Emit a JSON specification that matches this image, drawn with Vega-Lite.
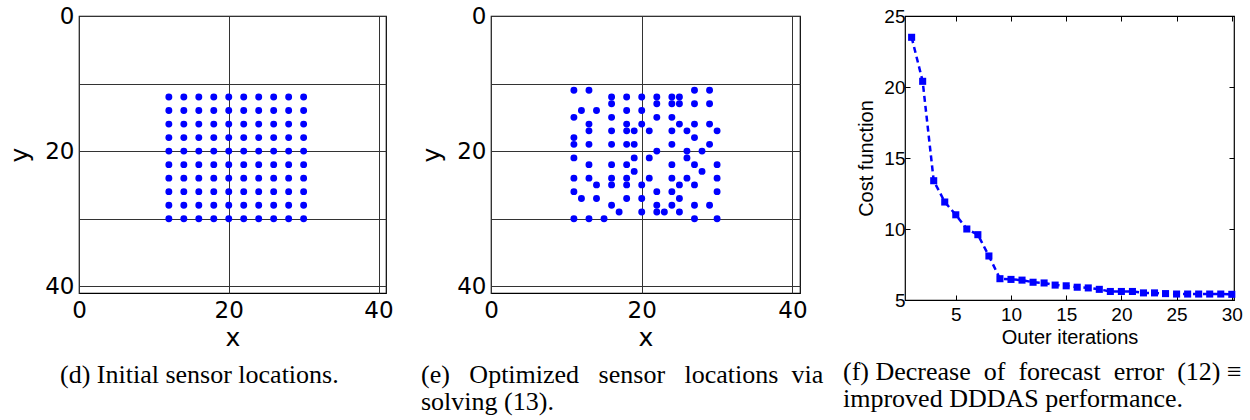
{
  "$schema": "https://vega.github.io/schema/vega-lite/v6.json",
  "background": "white",
  "padding": {"left": 7, "top": 4, "right": 0, "bottom": 0},
  "config": {
    "view": {"stroke": "#000", "strokeWidth": 1.2},
    "axis": {"domain": false, "labelColor": "#000", "titleColor": "#000", "titleFontWeight": "normal"},
    "title": {"color": "#000", "frame": "group"}
  },
  "datasets": {
    "initial": [
      {"x":12,"y":12},{"x":14,"y":12},{"x":16,"y":12},{"x":18,"y":12},{"x":20,"y":12},{"x":22,"y":12},{"x":24,"y":12},{"x":26,"y":12},{"x":28,"y":12},{"x":30,"y":12},
      {"x":12,"y":14},{"x":14,"y":14},{"x":16,"y":14},{"x":18,"y":14},{"x":20,"y":14},{"x":22,"y":14},{"x":24,"y":14},{"x":26,"y":14},{"x":28,"y":14},{"x":30,"y":14},
      {"x":12,"y":16},{"x":14,"y":16},{"x":16,"y":16},{"x":18,"y":16},{"x":20,"y":16},{"x":22,"y":16},{"x":24,"y":16},{"x":26,"y":16},{"x":28,"y":16},{"x":30,"y":16},
      {"x":12,"y":18},{"x":14,"y":18},{"x":16,"y":18},{"x":18,"y":18},{"x":20,"y":18},{"x":22,"y":18},{"x":24,"y":18},{"x":26,"y":18},{"x":28,"y":18},{"x":30,"y":18},
      {"x":12,"y":20},{"x":14,"y":20},{"x":16,"y":20},{"x":18,"y":20},{"x":20,"y":20},{"x":22,"y":20},{"x":24,"y":20},{"x":26,"y":20},{"x":28,"y":20},{"x":30,"y":20},
      {"x":12,"y":22},{"x":14,"y":22},{"x":16,"y":22},{"x":18,"y":22},{"x":20,"y":22},{"x":22,"y":22},{"x":24,"y":22},{"x":26,"y":22},{"x":28,"y":22},{"x":30,"y":22},
      {"x":12,"y":24},{"x":14,"y":24},{"x":16,"y":24},{"x":18,"y":24},{"x":20,"y":24},{"x":22,"y":24},{"x":24,"y":24},{"x":26,"y":24},{"x":28,"y":24},{"x":30,"y":24},
      {"x":12,"y":26},{"x":14,"y":26},{"x":16,"y":26},{"x":18,"y":26},{"x":20,"y":26},{"x":22,"y":26},{"x":24,"y":26},{"x":26,"y":26},{"x":28,"y":26},{"x":30,"y":26},
      {"x":12,"y":28},{"x":14,"y":28},{"x":16,"y":28},{"x":18,"y":28},{"x":20,"y":28},{"x":22,"y":28},{"x":24,"y":28},{"x":26,"y":28},{"x":28,"y":28},{"x":30,"y":28},
      {"x":12,"y":30},{"x":14,"y":30},{"x":16,"y":30},{"x":18,"y":30},{"x":20,"y":30},{"x":22,"y":30},{"x":24,"y":30},{"x":26,"y":30},{"x":28,"y":30},{"x":30,"y":30}
    ],
    "optimized": [
      {"x":11,"y":11},{"x":13,"y":11},{"x":27,"y":11},{"x":29,"y":11},
      {"x":16,"y":12},{"x":18,"y":12},{"x":20,"y":12},{"x":22,"y":12},{"x":24,"y":12},{"x":25,"y":12},
      {"x":16,"y":13},{"x":22,"y":13},{"x":24,"y":13},{"x":25,"y":13},{"x":27,"y":13},{"x":29,"y":13},
      {"x":12,"y":14},{"x":14,"y":14},{"x":18,"y":14},{"x":20,"y":14},
      {"x":11,"y":15},{"x":16,"y":15},{"x":22,"y":15},{"x":24,"y":15},
      {"x":13,"y":16},{"x":18,"y":16},{"x":20,"y":16},{"x":25,"y":16},{"x":27,"y":16},{"x":29,"y":16},
      {"x":13,"y":17},{"x":16,"y":17},{"x":18,"y":17},{"x":19,"y":17},{"x":21,"y":17},{"x":24,"y":17},{"x":26,"y":17},{"x":30,"y":17},
      {"x":11,"y":18},{"x":27,"y":18},
      {"x":11,"y":19},{"x":13,"y":19},{"x":16,"y":19},{"x":18,"y":19},{"x":19,"y":19},{"x":24,"y":19},{"x":29,"y":19},
      {"x":22,"y":20},{"x":26,"y":20},{"x":28,"y":20},
      {"x":11,"y":21},{"x":19,"y":21},{"x":21,"y":21},{"x":26,"y":21},
      {"x":13,"y":22},{"x":16,"y":22},{"x":18,"y":22},{"x":24,"y":22},{"x":27,"y":22},{"x":30,"y":22},
      {"x":19,"y":23},{"x":28,"y":23},
      {"x":11,"y":24},{"x":13,"y":24},{"x":16,"y":24},{"x":18,"y":24},{"x":21,"y":24},{"x":24,"y":24},{"x":26,"y":24},{"x":30,"y":24},
      {"x":14,"y":25},{"x":16,"y":25},{"x":18,"y":25},{"x":20,"y":25},{"x":25,"y":25},{"x":27,"y":25},
      {"x":11,"y":26},{"x":22,"y":26},{"x":24,"y":26},{"x":30,"y":26},
      {"x":12,"y":27},{"x":14,"y":27},{"x":18,"y":27},{"x":20,"y":27},{"x":25,"y":27},
      {"x":16,"y":28},{"x":22,"y":28},{"x":24,"y":28},{"x":27,"y":28},{"x":29,"y":28},
      {"x":17,"y":29},{"x":20,"y":29},{"x":22,"y":29},{"x":23,"y":29},{"x":25,"y":29},
      {"x":11,"y":30},{"x":13,"y":30},{"x":15,"y":30},{"x":27,"y":30},{"x":30,"y":30}
    ],
    "cost": [
      {"iter":1,"cost":23.5},{"iter":2,"cost":20.4},{"iter":3,"cost":13.4},{"iter":4,"cost":11.9},{"iter":5,"cost":11.0},
      {"iter":6,"cost":10.0},{"iter":7,"cost":9.6},{"iter":8,"cost":8.1},{"iter":9,"cost":6.5},{"iter":10,"cost":6.45},
      {"iter":11,"cost":6.4},{"iter":12,"cost":6.25},{"iter":13,"cost":6.2},{"iter":14,"cost":6.05},{"iter":15,"cost":6.0},
      {"iter":16,"cost":5.9},{"iter":17,"cost":5.85},{"iter":18,"cost":5.75},{"iter":19,"cost":5.6},{"iter":20,"cost":5.6},
      {"iter":21,"cost":5.6},{"iter":22,"cost":5.5},{"iter":23,"cost":5.5},{"iter":24,"cost":5.45},{"iter":25,"cost":5.42},
      {"iter":26,"cost":5.42},{"iter":27,"cost":5.42},{"iter":28,"cost":5.42},{"iter":29,"cost":5.42},{"iter":30,"cost":5.4}
    ]
  },
  "hconcat": [
    {
      "width": 307,
      "height": 277,
      "data": {"name": "initial"},
      "title": {"text": ["(d) Initial sensor locations."], "orient": "bottom", "anchor": "start", "frame": "group", "dx": -19, "offset": 12, "font": "Liberation Serif", "fontSize": 26, "fontWeight": "normal", "lineHeight": 27},
      "mark": {"type": "circle", "size": 48, "color": "#0000ff", "opacity": 1},
      "encoding": {
        "x": {"field": "x", "type": "quantitative", "scale": {"domain": [0, 41], "nice": false, "zero": false},
          "axis": {"values": [0, 20, 40], "grid": true, "gridColor": "#333", "gridOpacity": 1, "ticks": false, "labelFlush": false, "labelFont": "DejaVu Sans", "labelFontSize": 23, "labelPadding": 6, "title": "x", "titleFont": "DejaVu Sans", "titleFontSize": 25, "titlePadding": 3}},
        "y": {"field": "y", "type": "quantitative", "scale": {"domain": [0, 41], "nice": false, "zero": false, "reverse": true},
          "axis": {"values": [0, 10, 20, 30, 40], "labelExpr": "datum.value % 20 == 0 ? datum.label : ''", "grid": true, "gridColor": "#333", "gridOpacity": 1, "ticks": false, "labelFlush": false, "labelFont": "DejaVu Sans", "labelFontSize": 23, "labelPadding": 5, "title": "y", "titleFont": "DejaVu Sans", "titleFontSize": 25, "titlePadding": 12}}
      }
    },
    {
      "width": 309,
      "height": 277,
      "data": {"name": "optimized"},
      "title": {"text": ["(e)\u00a0\u00a0 Optimized\u00a0\u00a0 sensor\u00a0\u00a0 locations\u00a0 via", "solving (13)."], "orient": "bottom", "anchor": "start", "frame": "group", "dx": -70, "offset": 12, "font": "Liberation Serif", "fontSize": 26, "fontWeight": "normal", "lineHeight": 27},
      "mark": {"type": "circle", "size": 48, "color": "#0000ff", "opacity": 1},
      "encoding": {
        "x": {"field": "x", "type": "quantitative", "scale": {"domain": [0, 41], "nice": false, "zero": false},
          "axis": {"values": [0, 20, 40], "grid": true, "gridColor": "#333", "gridOpacity": 1, "ticks": false, "labelFlush": false, "labelFont": "DejaVu Sans", "labelFontSize": 23, "labelPadding": 6, "title": "x", "titleFont": "DejaVu Sans", "titleFontSize": 25, "titlePadding": 3}},
        "y": {"field": "y", "type": "quantitative", "scale": {"domain": [0, 41], "nice": false, "zero": false, "reverse": true},
          "axis": {"values": [0, 10, 20, 30, 40], "labelExpr": "datum.value % 20 == 0 ? datum.label : ''", "grid": true, "gridColor": "#333", "gridOpacity": 1, "ticks": false, "labelFlush": false, "labelFont": "DejaVu Sans", "labelFontSize": 23, "labelPadding": 5, "title": "y", "titleFont": "DejaVu Sans", "titleFontSize": 25, "titlePadding": 12}}
      }
    },
    {
      "width": 329,
      "height": 284,
      "data": {"name": "cost"},
      "title": {"text": ["(f) Decrease\u00a0 of\u00a0 forecast\u00a0 error\u00a0 (12) \u2261", "improved DDDAS performance."], "orient": "bottom", "anchor": "start", "frame": "group", "dx": -62, "offset": 12, "font": "Liberation Serif", "fontSize": 26, "fontWeight": "normal", "lineHeight": 27},
      "encoding": {
        "x": {"field": "iter", "type": "quantitative", "scale": {"domain": [0.4, 30.2], "nice": false, "zero": false}},
        "y": {"field": "cost", "type": "quantitative", "scale": {"domain": [5, 25], "nice": false, "zero": false}}
      },
      "layer": [
        {
          "mark": {"type": "line", "color": "#0000ff", "strokeWidth": 2.5, "strokeDash": [6, 4]},
          "encoding": {
            "x": {"field": "iter", "type": "quantitative", "axis": {"values": [5, 10, 15, 20, 25, 30], "grid": false, "tickSize": -5, "tickColor": "#000", "labelFlush": false, "labelFont": "Liberation Sans", "labelFontSize": 19, "labelPadding": 10, "title": "Outer iterations", "titleFont": "Liberation Sans", "titleFontSize": 20, "titlePadding": 3}},
            "y": {"field": "cost", "type": "quantitative", "axis": {"values": [5, 10, 15, 20, 25], "grid": false, "tickSize": -5, "tickColor": "#000", "labelFlush": false, "labelFont": "Liberation Sans", "labelFontSize": 19, "labelPadding": 5, "title": "Cost function", "titleFont": "Liberation Sans", "titleFontSize": 20, "titlePadding": 7}}
          }
        },
        {
          "mark": {"type": "point", "shape": "square", "filled": true, "size": 50, "color": "#0000ff", "opacity": 1},
          "encoding": {
            "x": {"field": "iter", "type": "quantitative", "axis": {"orient": "top", "values": [5, 10, 15, 20, 25, 30], "grid": false, "tickSize": -5, "tickColor": "#000", "labels": false, "title": null}},
            "y": {"field": "cost", "type": "quantitative", "axis": {"orient": "right", "values": [5, 10, 15, 20, 25], "grid": false, "tickSize": -5, "tickColor": "#000", "labels": false, "title": null}}
          }
        }
      ],
      "resolve": {"axis": {"x": "independent", "y": "independent"}}
    }
  ],
  "spacing": 105,
  "bounds": "flush"
}
